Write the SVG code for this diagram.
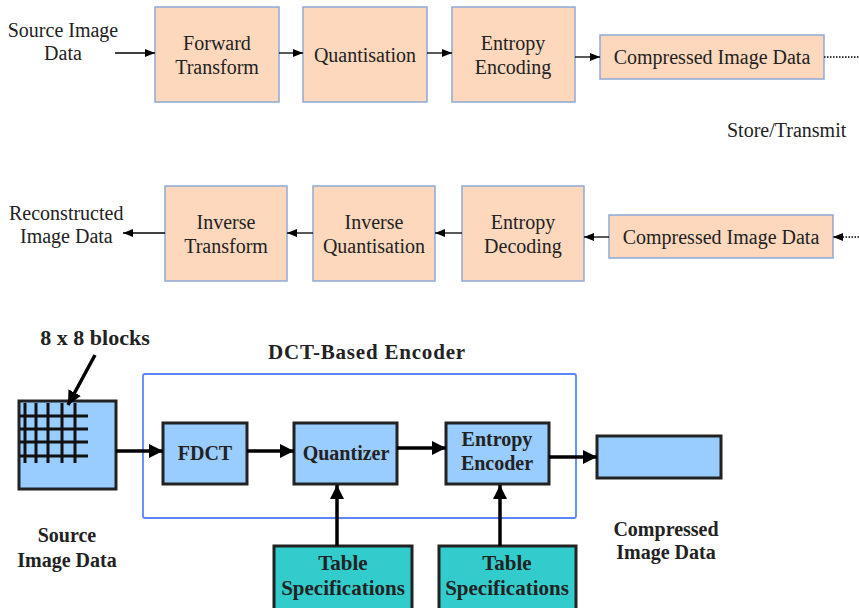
<svg xmlns="http://www.w3.org/2000/svg" width="859" height="608" viewBox="0 0 859 608">
<defs>
<marker id="ah" markerWidth="10" markerHeight="8" refX="10" refY="4" orient="auto" markerUnits="userSpaceOnUse"><path d="M0,0 L10,4 L0,8 Z" fill="#000"/></marker>
<marker id="ahb" markerWidth="14" markerHeight="14" refX="14" refY="7" orient="auto" markerUnits="userSpaceOnUse"><path d="M0,0 L14,7 L0,14 Z" fill="#000"/></marker>
</defs>
<style>
.pb{fill:#fdd8bd;stroke:#8ea9d6;stroke-width:1.5}
.t{font-family:"Liberation Serif",serif;font-size:20px;fill:#222;text-anchor:middle}
.tl{font-family:"Liberation Serif",serif;font-size:20px;fill:#222}
.bb{fill:#99ccff;stroke:#222;stroke-width:3}
.tb{fill:#33cccc;stroke:#222;stroke-width:3}
.b{font-family:"Liberation Serif",serif;font-size:20px;font-weight:bold;fill:#222;text-anchor:middle}
.c{stroke:#000;stroke-width:1.3;fill:none}
.cb{stroke:#000;stroke-width:3.5;fill:none}
.g{stroke:#111;stroke-width:3;fill:none}
</style>
<rect width="859" height="608" fill="#fff"/>

<!-- Top row -->
<text class="t" x="63" y="37">Source Image</text>
<text class="t" x="63" y="60">Data</text>
<g id="forward"><rect class="pb" x="155" y="7" width="124" height="95"/><text class="t" x="217" y="50">Forward</text><text class="t" x="217" y="74">Transform</text></g>
<g id="quantisation"><rect class="pb" x="303" y="7" width="124" height="95"/><text class="t" x="365" y="62">Quantisation</text></g>
<g id="entropyenc"><rect class="pb" x="452" y="7" width="123" height="95"/><text class="t" x="513" y="50">Entropy</text><text class="t" x="513" y="74">Encoding</text></g>
<g id="comp1"><rect class="pb" x="600" y="35" width="224" height="44"/><text class="t" x="712" y="64">Compressed Image Data</text></g>
<text class="tl" x="727" y="137">Store/Transmit</text>

<!-- Middle row -->
<text class="tl" x="9" y="220">Reconstructed</text>
<text class="tl" x="20" y="243">Image Data</text>
<g id="invtransform"><rect class="pb" x="165" y="186" width="122" height="95"/><text class="t" x="226" y="229">Inverse</text><text class="t" x="226" y="253">Transform</text></g>
<g id="invquant"><rect class="pb" x="313" y="186" width="122" height="95"/><text class="t" x="374" y="229">Inverse</text><text class="t" x="374" y="253">Quantisation</text></g>
<g id="entropydec"><rect class="pb" x="462" y="186" width="122" height="95"/><text class="t" x="523" y="229">Entropy</text><text class="t" x="523" y="253">Decoding</text></g>
<g id="comp2"><rect class="pb" x="609" y="215" width="224" height="43"/><text class="t" x="721" y="244">Compressed Image Data</text></g>

<!-- Bottom -->
<text class="b" x="95" y="345" style="font-size:22px">8 x 8 blocks</text>
<text class="b" x="367" y="359" style="font-size:21px;letter-spacing:0.8px">DCT-Based Encoder</text>
<rect id="encoder" x="143" y="374" width="433" height="144" fill="none" stroke="#5a86ff" stroke-width="1.8" rx="2"/>
<g id="source">
<rect class="bb" x="19" y="401" width="97" height="88"/>
<path class="g" d="M25,403V463M36,403V463M48,403V463M62,403V463M75,403V463M20,416H88M20,429H88M20,442H88M20,456H88"/>
</g>
<text class="b" x="67" y="542">Source</text>
<text class="b" x="67" y="567">Image Data</text>
<g id="fdct"><rect class="bb" x="163" y="423" width="84" height="61"/><text class="b" x="205" y="460">FDCT</text></g>
<g id="quantizer"><rect class="bb" x="294" y="423" width="103" height="61"/><text class="b" x="346" y="460">Quantizer</text></g>
<g id="entropyencoder"><rect class="bb" x="446" y="423" width="103" height="61"/><text class="b" x="497" y="446">Entropy</text><text class="b" x="497" y="470">Encoder</text></g>
<g id="compressed"><rect class="bb" x="597" y="436" width="124" height="42"/></g>
<text class="b" x="666" y="536">Compressed</text>
<text class="b" x="666" y="559">Image Data</text>
<g id="table1"><rect class="tb" x="274" y="546" width="138" height="64"/><text class="b" x="343" y="570" style="font-size:21px">Table</text><text class="b" x="343" y="595" style="font-size:21px">Specifications</text></g>
<g id="table2"><rect class="tb" x="439" y="546" width="137" height="64"/><text class="b" x="507" y="570" style="font-size:21px">Table</text><text class="b" x="507" y="595" style="font-size:21px">Specifications</text></g>

<g id="connectors">
<line class="c" x1="115" y1="53" x2="155" y2="53" marker-end="url(#ah)"/>
<line class="c" x1="279" y1="53" x2="303" y2="53" marker-end="url(#ah)"/>
<line class="c" x1="427" y1="53" x2="452" y2="53" marker-end="url(#ah)"/>
<line class="c" x1="575" y1="57" x2="600" y2="57" marker-end="url(#ah)"/>
<line class="c" x1="824" y1="57" x2="859" y2="57" stroke-dasharray="1.5,1.5"/>
<line class="c" x1="859" y1="237" x2="833" y2="237" stroke-dasharray="1.5,1.5" marker-end="url(#ah)"/>
<line class="c" x1="609" y1="237" x2="584" y2="237" marker-end="url(#ah)"/>
<line class="c" x1="462" y1="233" x2="435" y2="233" marker-end="url(#ah)"/>
<line class="c" x1="313" y1="233" x2="287" y2="233" marker-end="url(#ah)"/>
<line class="c" x1="165" y1="233" x2="123" y2="233" marker-end="url(#ah)"/>
<line class="cb" x1="95" y1="355" x2="68" y2="405" marker-end="url(#ahb)"/>
<line class="cb" x1="116" y1="451" x2="163" y2="451" marker-end="url(#ahb)"/>
<line class="cb" x1="247" y1="451" x2="294" y2="451" marker-end="url(#ahb)"/>
<line class="cb" x1="397" y1="448" x2="446" y2="448" marker-end="url(#ahb)"/>
<line class="cb" x1="549" y1="457" x2="597" y2="457" marker-end="url(#ahb)"/>
<line class="cb" x1="337" y1="546" x2="337" y2="485" marker-end="url(#ahb)"/>
<line class="cb" x1="500" y1="546" x2="500" y2="485" marker-end="url(#ahb)"/>
</g>
</svg>
